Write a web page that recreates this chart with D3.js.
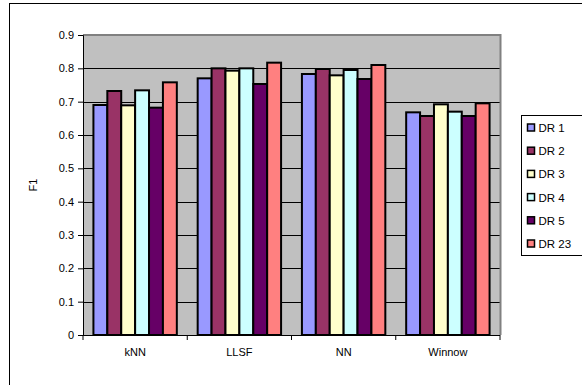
<!DOCTYPE html>
<html><head><meta charset="utf-8">
<script src="https://cdn.jsdelivr.net/npm/d3@7"></script>
<style>body{margin:0;background:#fff}svg{display:block}text{font-family:"Liberation Sans",Arial,sans-serif;font-size:11px;fill:#000}</style>
</head><body><svg id="c" width="582" height="385"></svg>
<script>
const categories = ["kNN","LLSF","NN","Winnow"];
const seriesNames = ["DR 1","DR 2","DR 3","DR 4","DR 5","DR 23"];
const seriesColors = ["#9999FF","#993366","#FFFFCC","#CCFFFF","#660066","#FF8080"];
const dr1  = [0.690,0.770,0.783,0.668];
const dr2  = [0.732,0.800,0.798,0.657];
const dr3  = [0.689,0.793,0.779,0.692];
const dr4  = [0.734,0.800,0.795,0.670];
const dr5  = [0.682,0.753,0.768,0.657];
const dr23 = [0.758,0.817,0.810,0.695];
const yTicks = [0,0.1,0.2,0.3,0.4,0.5,0.6,0.7,0.8,0.9];
const seriesValues = [dr1,dr2,dr3,dr4,dr5,dr23];

const svg = d3.select("#c");
const L=83, R=500, T=35, B=335;
svg.append("rect").attr("x",9.5).attr("y",3.5).attr("width",600).attr("height",400).attr("fill","none").attr("stroke","#000").attr("stroke-width",1);
const y = d3.scaleLinear().domain([0,0.9]).range([B,T]);
const x0 = d3.scaleBand().domain(categories).range([L,R]);
const bw = x0.bandwidth();
const barW = bw/7.5;
const x1 = d3.scaleBand().domain(seriesNames).range([barW*0.75, bw-barW*0.75]);

svg.append("rect").attr("x",L).attr("y",T).attr("width",R-L).attr("height",B-T).attr("fill","#C0C0C0");
svg.append("g").selectAll("line").data(yTicks.filter(d=>d>0&&d<0.9)).join("line")
  .attr("x1",L).attr("x2",R).attr("y1",d=>Math.round(y(d))+0.5).attr("y2",d=>Math.round(y(d))+0.5)
  .attr("stroke","#000").attr("stroke-width",1);
svg.append("path").attr("d",`M${L},${T} H${R+0.5} V${B}`).attr("fill","none").attr("stroke","#808080").attr("stroke-width",2);

categories.forEach((c,ci)=>{
  seriesNames.forEach((s,si)=>{
    const v = seriesValues[si][ci];
    svg.append("rect")
      .attr("x",x0(c)+x1(s)).attr("y",y(v))
      .attr("width",x1.bandwidth()).attr("height",B-y(v))
      .attr("fill",seriesColors[si]).attr("stroke","#000").attr("stroke-width",2);
  });
});

const ya = d3.axisLeft(y).tickValues(yTicks).tickFormat(d=>d===0?"0":d3.format(".1f")(d)).tickSize(5).tickPadding(4);
const gy = svg.append("g").attr("transform",`translate(${L},0)`).call(ya);
gy.select(".domain").attr("stroke","#000");
gy.selectAll("line").attr("stroke","#000");
gy.selectAll("text").style("font-size","11px").style("font-family","Liberation Sans, Arial, sans-serif");
const xa = d3.axisBottom(x0).tickSize(0).tickPadding(13);
const gx = svg.append("g").attr("transform",`translate(0,${B})`).call(xa);
gx.select(".domain").remove();
gx.append("line").attr("x1",L).attr("x2",R).attr("y1",0.5).attr("y2",0.5).attr("stroke","#000");
gx.selectAll(".tk").data(d3.range(categories.length+1)).join("line")
  .attr("x1",i=>L+i*bw).attr("x2",i=>L+i*bw).attr("y1",0).attr("y2",5).attr("stroke","#000");
gx.selectAll("text").style("font-size","11px").style("font-family","Liberation Sans, Arial, sans-serif");

svg.append("text").attr("transform","translate(37,185) rotate(-90)").attr("text-anchor","middle").text("F1");

const lg = svg.append("g");
lg.append("rect").attr("x",521.5).attr("y",115.5).attr("width",80).attr("height",140).attr("fill","#fff").attr("stroke","#000");
seriesNames.forEach((s,i)=>{
  const cy = 127.5 + i*23.2;
  lg.append("rect").attr("x",527.5).attr("y",cy-3.5).attr("width",7).attr("height",7).attr("fill",seriesColors[i]).attr("stroke","#000").attr("stroke-width",1.5);
  lg.append("text").attr("x",538.5).attr("y",cy+4.5).style("font-size","11.5px").text(s);
});
</script></body></html>
